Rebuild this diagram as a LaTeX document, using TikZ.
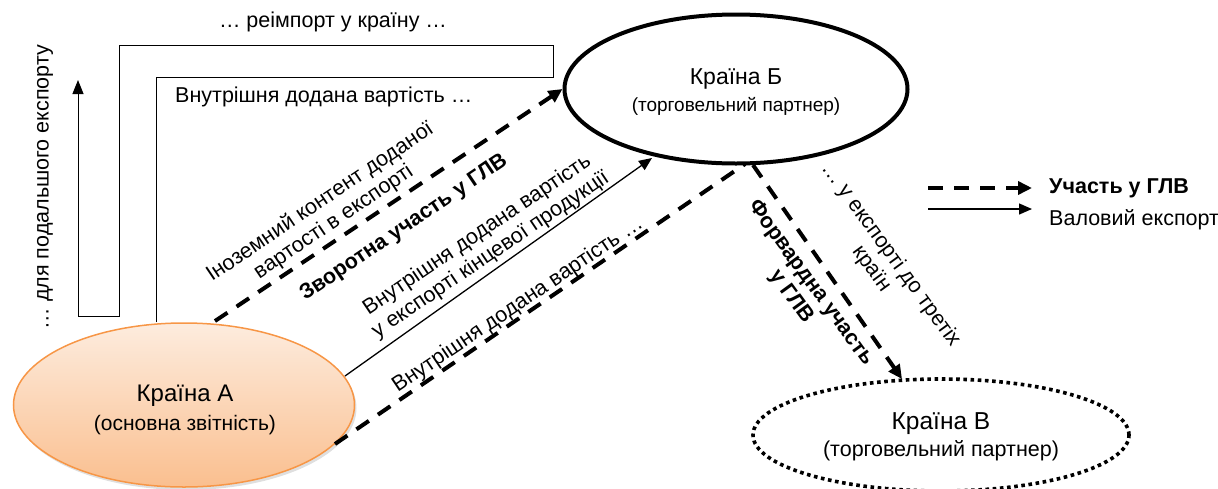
\documentclass[tikz,border=0pt]{standalone}
\usepackage{fontspec}
\setmainfont{Liberation Sans}
\usetikzlibrary{arrows.meta,shapes.geometric,shadows}
\definecolor{aborder}{RGB}{247,150,70}
\definecolor{atop}{RGB}{253,236,222}
\definecolor{abot}{RGB}{250,191,143}
\begin{document}
\begin{tikzpicture}[x=1pt,y=-1pt,
  lbl/.style={inner sep=0pt, font=\fontsize{21.5}{24}\selectfont, align=center},
  blbl/.style={lbl, font=\fontsize{21.5}{24}\selectfont\bfseries},
  ttl/.style={inner sep=0pt, font=\fontsize{23}{26}\selectfont},
  sub/.style={inner sep=0pt, font=\fontsize{19}{22}\selectfont},
  gvc/.style={line width=4pt, dash pattern=on 15pt off 11pt},
  gvctip/.style={-{Triangle[length=14pt,width=13pt]}},
  gross/.style={line width=1.3pt, -{Triangle[length=13pt,width=11pt]}},
  thinline/.style={line width=1pt}]
\useasboundingbox (0,0) rectangle (1218,488);

% countries
\node[ellipse, draw=aborder, line width=1.5pt, top color=atop, bottom color=abot,
      minimum width=341pt, minimum height=164pt, inner sep=0pt,
      drop shadow={shadow xshift=2pt, shadow yshift=-3pt, opacity=0.25}] (A) at (184,405) {};
\node[ellipse, draw, line width=4pt, minimum width=343pt, minimum height=149pt, inner sep=0pt] (B) at (736,89) {};
\node[ellipse, draw, line width=3.6pt, dash pattern=on 3.6pt off 3.6pt,
      minimum width=376pt, minimum height=112pt, inner sep=0pt] (C) at (941,435) {};

\node[ttl, font=\fontsize{24}{27}\selectfont] (At) at (185,396) {Країна А};
\node[sub, font=\fontsize{21}{24}\selectfont] (As) at (185,425) {(основна звітність)};
\node[ttl] (Bt) at (736,79) {Країна Б};
\node[sub] (Bs) at (736,106) {(торговельний партнер)};
\node[ttl, font=\fontsize{24.5}{27}\selectfont] (Ct) at (941,424) {Країна В};
\node[sub, font=\fontsize{21.5}{24}\selectfont] (Cs) at (941,451) {(торговельний партнер)};

% reimport path
\coordinate (r1) at (156,77);
\coordinate (r2) at (553,77);
\coordinate (r3) at (553,45);
\coordinate (r4) at (119,45);
\coordinate (r5) at (119,316);
\coordinate (r6) at (78,316);
\coordinate (r7) at (78,80);
\draw[thinline, -{Triangle[length=14pt,width=11pt]}] (A.north -| r1) -- (r1) -- (r2) -- (r3) -- (r4) -- (r5) -- (r6) -- (r7);

\node[lbl] (reimp) at (333,22) {… реімпорт у країну …};
\node[lbl, anchor=west] (dva) at (175,97) {Внутрішня додана вартість …};
\node[lbl, rotate=90] (further) at (45,187) {… для подальшого експорту};

% connectors
\coordinate (a1) at (215,321);
\coordinate (a2) at (345,376);
\coordinate (a3) at (335,444);
\coordinate (b2) at (652,158);
\coordinate (b3) at (745,164);
\coordinate (b4) at (753,165);
\coordinate (c4) at (902,379);
\draw[gvc, gvctip] (a1) -- (B.west);
\draw[gross] (a2) -- (b2);
\draw[gvc] (a3) -- (b3);
\draw[gvc, gvctip] (b4) -- (c4);

% arrow labels
\node[lbl, rotate=34] (l1) at (327,212) {Іноземний контент доданої\\вартості в експорті};
\node[blbl, rotate=34] (l2) at (404,228) {Зворотна участь у ГЛВ};
\node[lbl, rotate=34] (l3) at (484,245) {Внутрішня додана вартість\\у експорті кінцевої продукції};
\node[lbl, rotate=34] (l4) at (518,305) {Внутрішня додана вартість …};
\node[blbl, rotate=-54] (l5) at (801,290) {Форвардна участь\\у ГЛВ};
\node[lbl, rotate=-54] (l6) at (881,262) {… у експорті до третіх\\країн};

% legend
\coordinate (g1s) at (928,188);
\coordinate (g1e) at (1032,188);
\coordinate (g2s) at (928,209);
\coordinate (g2e) at (1032,209);
\draw[gvc, gvctip] (g1s) -- (g1e);
\draw[gross] (g2s) -- (g2e);
\node[blbl, anchor=west] (lg1) at (1049,188) {Участь у ГЛВ};
\node[lbl, anchor=west] (lg2) at (1049,220) {Валовий експорт};
\end{tikzpicture}
\end{document}
